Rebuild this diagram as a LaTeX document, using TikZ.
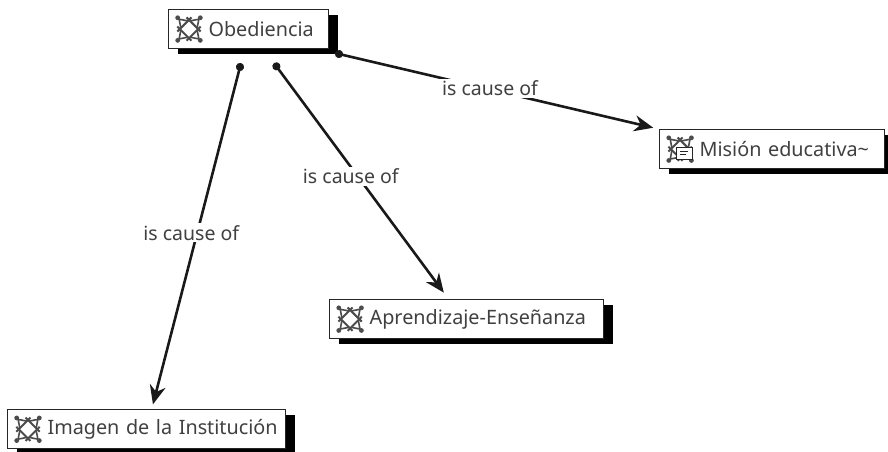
\documentclass[tikz,border=0pt]{standalone}
\usepackage{fontspec}
\setmainfont{Noto Sans}
\usetikzlibrary{positioning, shadows, arrows.meta}

\tikzset{
    conceptbox/.style={draw=black!85, line width=1.1pt, fill=white, text=black!75,
        font=\fontsize{19.8}{22}\selectfont, text width=#1, minimum height=39pt,
        inner xsep=0pt, inner ysep=0pt, align=left,
        execute at begin node={\hspace*{40pt}},
        drop shadow={shadow xshift=9pt, shadow yshift=-5pt, fill=black, opacity=1}},
    causelink/.style={line width=2.6pt, black!90, {Circle[length=8pt]}-{Stealth[length=19pt,width=16pt]}},
    causelabel/.style={fill=white, text=black!75, font=\fontsize{19.5}{22}\selectfont, inner xsep=7pt, inner ysep=2pt},
    pics/conceptico/.style={code={
        \foreach \a in {45,135,225,315} {
            \draw[black!70, line width=2pt, rotate=\a] (6.5pt,-10pt) -- (6.5pt,10pt);
            \draw[black!70, line width=1.6pt, rotate=\a] (6.5pt,-5pt) -- (14pt,0) -- (6.5pt,5pt);
            \fill[black!70, rotate=\a] (16pt,0) circle (2.4pt);
        }
    }},
    pics/noteico/.style={code={
        \draw[black!85, fill=white, line width=1.2pt] (-8pt,-6pt) rectangle (8pt,6pt);
        \draw[black!85, line width=1.1pt] (-4pt,2pt) -- (4pt,2pt) (-4pt,-1.5pt) -- (2pt,-1.5pt);
    }}
}

\begin{document}
\begin{tikzpicture}[x=1pt, y=1pt]

    \useasboundingbox (0,0) rectangle (888,-451);

    \node[conceptbox=160pt, anchor=north west] (obediencia) at (168,-9) {Obediencia};
    \pic at ([xshift=21pt]obediencia.west) {conceptico};

    % ----------

    \node[conceptbox=225pt, below right=80pt and 330pt of obediencia] (mision) {Misión educativa\textasciitilde};
    \pic at ([xshift=21pt]mision.west) {conceptico};
    \pic at ([xshift=25pt,yshift=-4pt]mision.west) {noteico};

    % ----------

    \node[conceptbox=274pt, below right=250pt and 0pt of obediencia] (aprendizaje) {Aprendizaje-Enseñanza};
    \pic at ([xshift=21pt]aprendizaje.west) {conceptico};

    % ----------

    \node[conceptbox=278pt, below left=70pt and 43pt of aprendizaje] (imagen) {Imagen de la Institución};
    \pic at ([xshift=21pt]imagen.west) {conceptico};

    % -------

    \coordinate[below right=14pt and 73pt of obediencia.south west] (obedienciaA);
    \coordinate[below right=14pt and 106pt of obediencia.south west] (obedienciaB);
    \coordinate[below right=4pt and 6pt of obediencia.south east] (obedienciaC);

    \draw[causelink, shorten >=5pt] (obedienciaA) -- node[causelabel, pos=0.49, xshift=-6pt] (labelA) {is cause of} (imagen);
    \draw[causelink, shorten >=8pt] (obedienciaB) -- node[causelabel, pos=0.48, xshift=-7pt] (labelB) {is cause of} (aprendizaje.132);
    \draw[causelink, shorten >=6pt] (obedienciaC) -- node[causelabel, pos=0.478, yshift=1pt] (labelC) {is cause of} (mision.north west);

\end{tikzpicture}
\end{document}
